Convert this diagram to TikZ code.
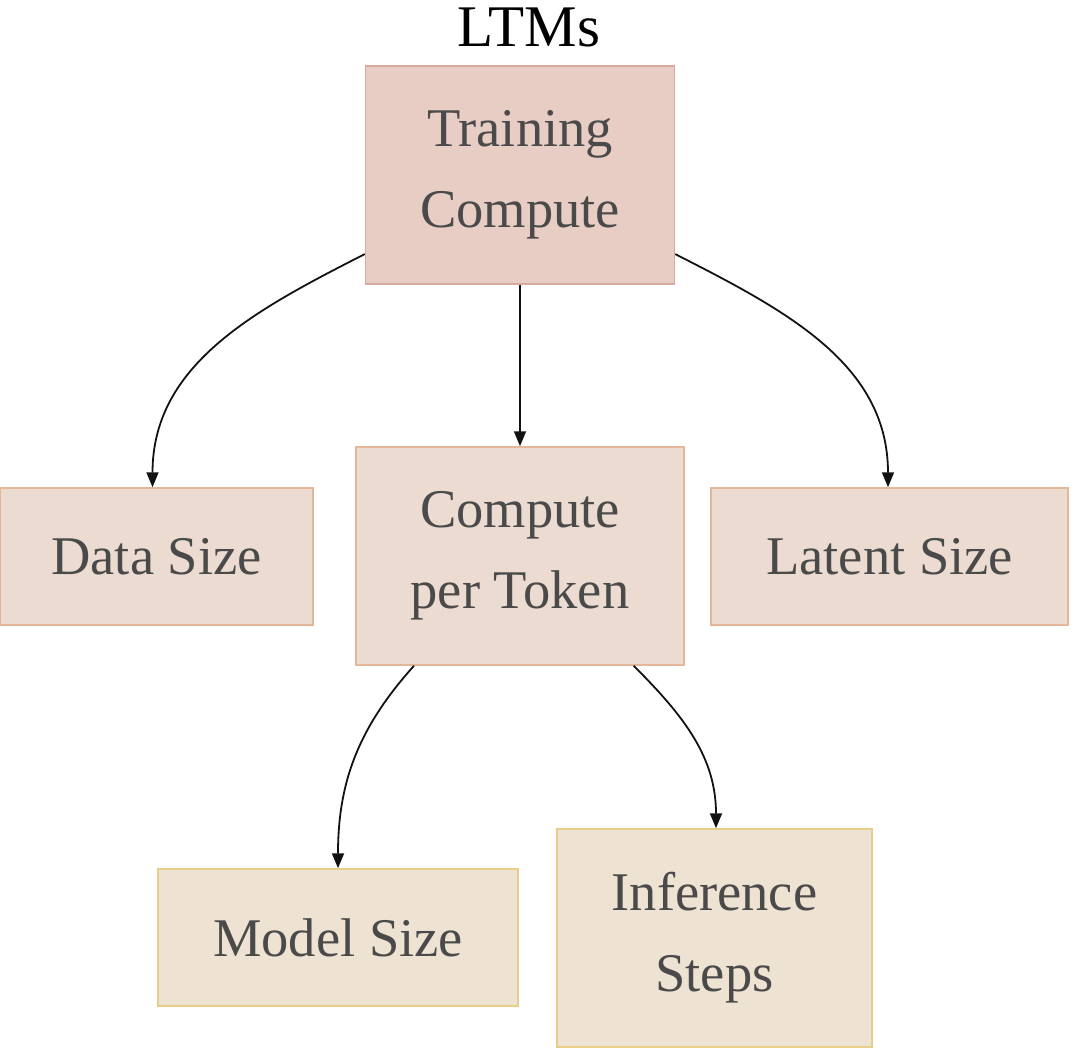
\documentclass[tikz,border=0pt]{standalone}
\usepackage{fontspec}
\setmainfont{Liberation Serif}
\usetikzlibrary{arrows.meta,calc}
\definecolor{txt}{HTML}{4A4A4A}
\definecolor{fillA}{HTML}{E8CDC4}
\definecolor{drawA}{HTML}{D9A9A0}
\definecolor{fillB}{HTML}{EBDBD0}
\definecolor{drawB}{HTML}{E2B898}
\definecolor{fillC}{HTML}{EEE3D2}
\definecolor{drawC}{HTML}{E9CD8A}
\tikzset{
  box/.style={rectangle, draw, line width=1.5pt, text=txt, align=center, inner sep=0pt,
    font=\fontsize{54.5}{81}\selectfont},
  lvA/.style={box, fill=fillA, draw=drawA},
  lvB/.style={box, fill=fillB, draw=drawB},
  lvC/.style={box, fill=fillC, draw=drawC},
  conn/.style={line width=1.8pt, draw={black!93}, -{Triangle[length=15pt,width=12pt]}}
}
\begin{document}
\begin{tikzpicture}[x=1pt,y=1pt]
\useasboundingbox (0,0) rectangle (1079,-1064);
\node[font=\fontsize{59}{70}\selectfont, anchor=base] (title) at (529,-47) {LTMs};
\node[lvA, minimum width=309pt, minimum height=218pt] (tc) at (520,-175) {Training\\Compute};
\node[lvB, minimum width=313pt, minimum height=137pt] (ds) at (156.5,-556.5) {Data Size};
\node[lvB, minimum width=328pt, minimum height=218pt] (cpt) at (520,-556) {Compute\\per Token};
\node[lvB, minimum width=357pt, minimum height=137pt] (ls) at (889.5,-556.5) {Latent Size};
\node[lvC, minimum width=360pt, minimum height=137pt] (ms) at (338,-937.5) {Model Size};
\node[lvC, minimum width=315pt, minimum height=218pt] (is) at (714.5,-938) {Inference\\Steps};
\draw[conn] (tc.207.4) to[out=207,in=90] ($(ds.north)+(-4,0)$);
\draw[conn] (tc.south) -- (cpt.north);
\draw[conn] (tc.-27.4) to[out=-27,in=90] ($(ls.north)+(-1.5,0)$);
\draw[conn] (cpt.226.1) to[out=228,in=90] (ms.north);
\draw[conn] (cpt.-44.2) to[out=-45,in=90] ($(is.north)+(1.5,0)$);
\end{tikzpicture}
\end{document}
